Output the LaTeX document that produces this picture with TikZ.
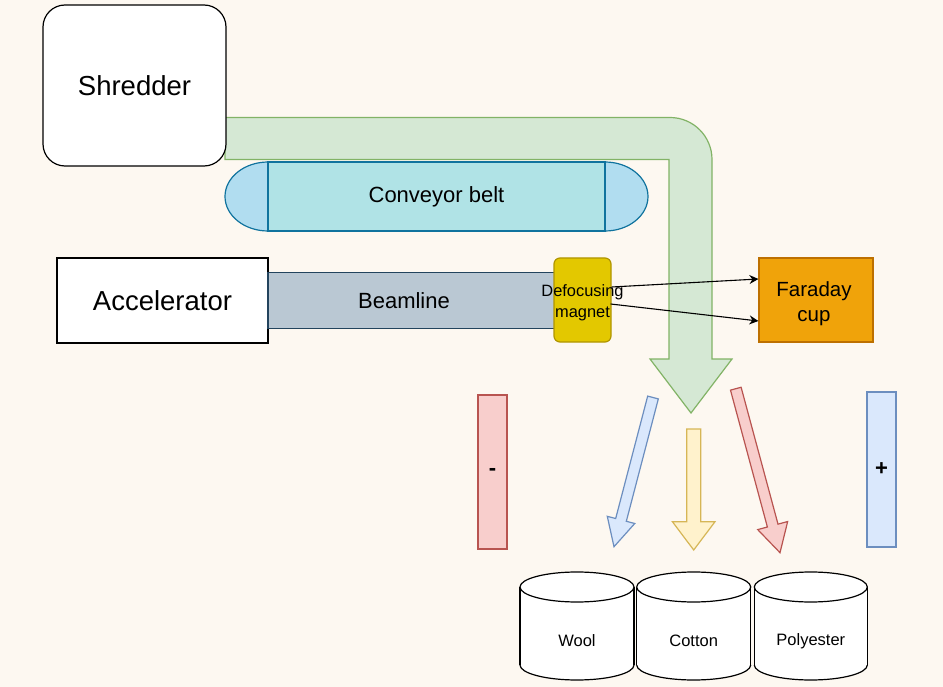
\documentclass[tikz,border=0pt]{standalone}
\usepackage{fontspec}
\setmainfont{Liberation Sans}
\usetikzlibrary{calc,arrows.meta}
\definecolor{bgc}{HTML}{FDF8F1}
\definecolor{grF}{HTML}{D5E8D4}\definecolor{grD}{HTML}{82B366}
\definecolor{blF}{HTML}{DAE8FC}\definecolor{blD}{HTML}{6C8EBF}
\definecolor{ylF}{HTML}{FFF2CC}\definecolor{ylD}{HTML}{D6B656}
\definecolor{rdF}{HTML}{F8CECC}\definecolor{rdD}{HTML}{B85450}
\definecolor{cbF}{HTML}{B0E3E6}\definecolor{cbD}{HTML}{0E8088}
\definecolor{capF}{HTML}{B1DDF0}\definecolor{capD}{HTML}{10739E}
\definecolor{bmF}{HTML}{BAC8D3}\definecolor{bmD}{HTML}{23445D}
\definecolor{mgF}{HTML}{E3C800}\definecolor{mgD}{HTML}{B09500}
\definecolor{fcF}{HTML}{F0A30A}\definecolor{fcD}{HTML}{BD7000}
\newcommand{\fsz}[2]{\fontsize{#1}{#2}\selectfont}
\newcommand{\blockarrow}[7]{%
  \coordinate (#7) at ($(#2)!#5!(#1)$);
  \filldraw[#6] ($(#1)!#3!90:(#2)$) -- ($(#7)!#3!90:(#2)$) -- ($(#7)!#4!90:(#2)$) -- (#2)
    -- ($(#7)!#4!-90:(#2)$) -- ($(#7)!#3!-90:(#2)$) -- ($(#1)!#3!-90:(#2)$) -- cycle;
}
\newcommand{\storebin}[4]{%
  \fill[white] (#1-#2,587) rectangle (#1+#2,665);
  \fill[white] (#1,665) ellipse [x radius=#2, y radius=15];
  \begin{scope}
    \clip (#1-#2-3,665) rectangle (#1+#2+3,690);
    \draw[binline] (#1,665) ellipse [x radius=#2, y radius=15];
  \end{scope}
  \draw[binline] (#1-#2,587) -- (#1-#2,665) (#1+#2,587) -- (#1+#2,665);
  \draw[binline, fill=white] (#1,587) ellipse [x radius=#2, y radius=15];
  \node[font=\fsz{16.5}{20}] (#3) at (#1,641) {#4};
}
\begin{document}
\begin{tikzpicture}[x=1pt,y=-1pt,
  box/.style={draw, line width=1.2pt, inner sep=0pt},
  binline/.style={draw=black, line width=1.2pt},
  beam/.style={draw=black, line width=1.1pt, -{Stealth[length=9pt,width=9pt,inset=3pt]}}]
\fill[bgc] (0,0) rectangle (943,687);
\useasboundingbox (0,0) rectangle (943,687);

% green flow arrow
\filldraw[fill=grF, draw=grD, line width=1.2pt] (225,117.5) -- (670,117.5)
  .. controls (693.2,117.5) and (712,136.3) .. (712,159.5) -- (712,359) -- (732,359)
  -- (691,413) -- (650,359) -- (669,359) -- (669,159.5) -- (225,159.5) -- cycle;

% conveyor belt
\filldraw[fill=capF, draw=capD, line width=1.2pt] (268,162) .. controls (244.3,162) and (225,177.5) .. (225,196.5)
  .. controls (225,215.5) and (244.3,231) .. (268,231) -- cycle;
\filldraw[fill=capF, draw=capD, line width=1.2pt] (605,162) .. controls (628.7,162) and (648,177.5) .. (648,196.5)
  .. controls (648,215.5) and (628.7,231) .. (605,231) -- cycle;
\node[box, draw=capD, fill=cbF, minimum width=337pt, minimum height=69pt, font=\fsz{22}{26}] (belt) at (436.5,196.5) {Conveyor belt};

% shredder
\node[box, draw=black, fill=white, rounded corners=22pt, minimum width=183pt, minimum height=161pt, font=\fsz{27.5}{32}] (shredder) at (134.5,85.5) {Shredder};

% accelerator + beamline
\node[box, draw=black, fill=white, minimum width=211pt, minimum height=85pt, font=\fsz{27.5}{32}] (acc) at (162.5,300.5) {Accelerator};
\node[box, draw=bmD, fill=bmF, minimum width=292pt, minimum height=56pt, font=\fsz{22}{26}] (beam) at (414,300.5) {\hspace*{-20pt}Beamline};
\node[box, draw=mgD, fill=mgF, rounded corners=6pt, minimum width=57pt, minimum height=84pt] (mag) at (582.5,300) {};
\node[align=center, inner sep=0pt, font=\fsz{16.4}{20.7}] (magtxt) at ($(mag.center)+(0,2.5)$) {Defocusing\\magnet};
\node[box, draw=fcD, fill=fcF, minimum width=114pt, minimum height=84pt] (faraday) at (816,300) {};
\node[align=center, inner sep=0pt, font=\fsz{20.5}{25}] (fctxt) at ($(faraday.center)+(-2,4)$) {Faraday\\cup};

\draw[beam] ($(mag.east)+(0,-13)$) -- ($(faraday.west)+(0,-21)$);
\draw[beam] ($(mag.east)+(-1,4)$) -- ($(faraday.west)+(0,21)$);

% deflection plates
\node[box, draw=rdD, fill=rdF, minimum width=29pt, minimum height=154pt, font=\bfseries\fsz{22}{26}] (minus) at (492.5,472) {-};
\node[box, draw=blD, fill=blF, minimum width=29pt, minimum height=155pt, font=\bfseries\fsz{22}{26}] (plus) at (881.5,469.5) {+};

% sorted streams
\coordinate (bs) at (653,397.5); \coordinate (bt) at (614,546.7);
\coordinate (ys) at (693.7,429); \coordinate (yt) at (693.7,550);
\coordinate (rs) at (735.8,388.7); \coordinate (rt) at (780,552.7);
\blockarrow{bs}{bt}{5.5pt}{14.2pt}{27.7pt}{fill=blF, draw=blD, line width=1.2pt}{bh}
\blockarrow{ys}{yt}{7pt}{21.3pt}{28.3pt}{fill=ylF, draw=ylD, line width=1.2pt}{yh}
\blockarrow{rs}{rt}{5.5pt}{15.5pt}{28.1pt}{fill=rdF, draw=rdD, line width=1.2pt}{rh}

% bins
\storebin{577}{57}{wool}{Wool}
\storebin{693.7}{57}{cotton}{Cotton}
\storebin{810.8}{56.5}{polyester}{Polyester}
\end{tikzpicture}
\end{document}
